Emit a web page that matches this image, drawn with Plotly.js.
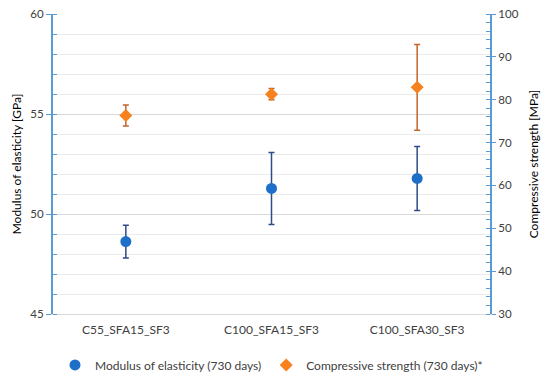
<!DOCTYPE html>
<html>
<head>
<meta charset="utf-8">
<script src="https://cdn.plot.ly/plotly-3.0.1.min.js"></script>
<style>html,body{margin:0;padding:0;background:#fff}#chart{width:550px;height:377px}</style>
</head>
<body>
<div id="chart"></div>
<script>
const categories = ["C55_SFA15_SF3", "C100_SFA15_SF3", "C100_SFA30_SF3"];
const modulus = [48.62, 51.28, 51.78];
const modulusErr = [0.82, 1.8, 1.6];
const strength = [76.3, 81.3, 82.9];
const strengthErr = [2.45, 1.3, 10.0];
const seriesNames = ["Modulus of elasticity (730 days)", "Compressive strength (730 days)*"];

const FONT = "Lato, 'Open Sans', sans-serif";
const AXISBLUE = "#5B9BD5";
const TXT = "#404040";

const traces = [
  {
    type: "scatter", mode: "markers", name: seriesNames[0],
    x: categories, y: modulus,
    error_y: {type: "data", array: modulusErr, visible: true, color: "#2F4B8A", thickness: 1.5, width: 3},
    marker: {symbol: "circle", size: 11, color: "#1E6FC8"},
    xaxis: "x", yaxis: "y"
  },
  {
    type: "scatter", mode: "markers", name: seriesNames[1],
    x: categories, y: strength,
    error_y: {type: "data", array: strengthErr, visible: true, color: "#C4652A", thickness: 1.5, width: 3},
    marker: {symbol: "diamond", size: 10, color: "#F5821F"},
    xaxis: "x", yaxis: "y2"
  }
];

// invisible helper trace so the crossing-tick overlay axis renders
traces.push({type: "scatter", mode: "markers", x: [categories[0]], y: [null], yaxis: "y3", xaxis: "x",
             showlegend: false, hoverinfo: "skip", marker: {opacity: 0}});

const layout = {
  width: 550, height: 377,
  margin: {l: 53, r: 60, t: 14, b: 63},
  paper_bgcolor: "#fff", plot_bgcolor: "#fff",
  font: {family: FONT, size: 12, color: TXT},
  showlegend: true,
  legend: {orientation: "h", x: 0.5, xanchor: "center",
           yref: "container", y: 0.032, yanchor: "middle",
           font: {family: FONT, size: 12, color: TXT}, itemwidth: 30, tracegroupgap: 0},
  xaxis: {
    type: "category", range: [-0.5, 2.5], showgrid: false, zeroline: false,
    showline: true, linecolor: "#D9D9D9", linewidth: 1, ticks: "", ticklabelstandoff: 5,
    tickfont: {family: FONT, size: 12, color: TXT}, automargin: false
  },
  yaxis: {
    range: [45, 60], dtick: 5, tick0: 45, showgrid: true, gridcolor: "#D9D9D9", gridwidth: 1,
    zeroline: false, showline: true, linecolor: AXISBLUE, linewidth: 2,
    ticks: "outside", ticklen: 5, tickcolor: AXISBLUE, tickwidth: 1,
    minor: {dtick: 1, ticks: "inside", ticklen: 4, tickcolor: AXISBLUE, showgrid: true, gridcolor: "#EBEBEB", gridwidth: 1},
    title: {text: "Modulus of elasticity [GPa]", font: {family: FONT, size: 12, color: "#000"}, standoff: 6},
    tickfont: {family: FONT, size: 11.5, color: TXT}, automargin: false
  },
  yaxis2: {
    overlaying: "y", side: "right", anchor: "x",
    range: [30, 100], dtick: 10, tick0: 30, showgrid: false, zeroline: false,
    showline: true, linecolor: AXISBLUE, linewidth: 2,
    ticks: "outside", ticklen: 4, tickcolor: AXISBLUE, tickwidth: 1,
    minor: {dtick: 2, ticks: "inside", ticklen: 4, tickcolor: AXISBLUE, showgrid: false},
    title: {text: "Compressive strength [MPa]", font: {family: FONT, size: 12, color: "#000"}, standoff: 12},
    tickfont: {family: FONT, size: 11.5, color: TXT}, automargin: false
  },
  yaxis3: {
    overlaying: "y", side: "right", anchor: "x",
    range: [30, 100], dtick: 10, tick0: 30, showgrid: false, zeroline: false,
    showline: false, showticklabels: false, ticks: "inside", ticklen: 4, tickcolor: AXISBLUE, tickwidth: 1
  }
};

Plotly.newPlot("chart", traces, layout, {displayModeBar: false, staticPlot: true});
</script>
</body>
</html>
